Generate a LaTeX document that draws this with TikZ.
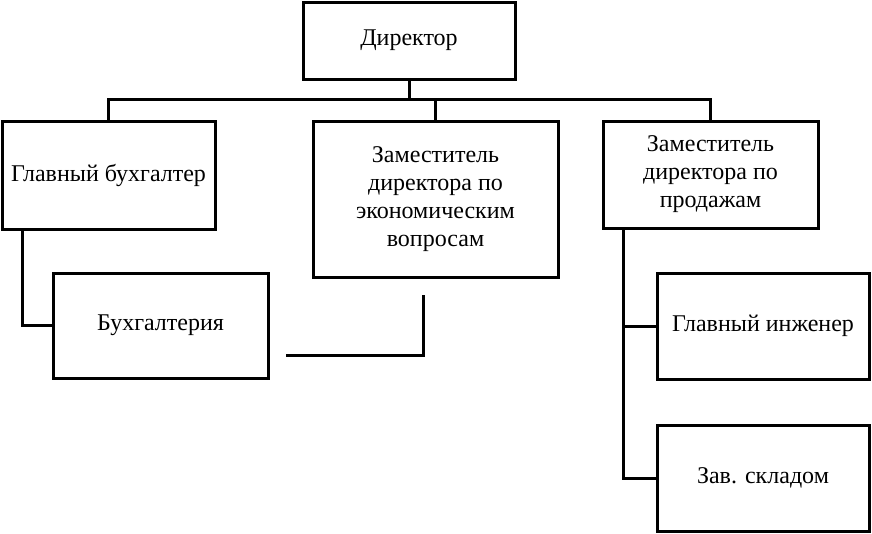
\documentclass[tikz,border=0pt]{standalone}
\usepackage{fontspec}
\setmainfont{Liberation Serif}
\usetikzlibrary{positioning}
\tikzset{
  orgbox/.style={draw,line width=3pt,align=center,inner sep=1pt,
    font=\fontsize{24}{28}\selectfont},
  link/.style={line width=3pt}
}

\begin{document}
\begin{tikzpicture}[x=1pt,y=-1pt,line join=miter]
  \useasboundingbox (0,0) rectangle (872,533);
  \node[orgbox,minimum width=212pt,minimum height=77pt] (dir) at (409,40.5) {Директор};
  \node[orgbox,minimum width=213pt,minimum height=108pt] (lead) at (108.5,175) {Главный бухгалтер};
  \node[orgbox,minimum width=245pt,minimum height=156pt] (econ) at (435.5,199)
    {Заместитель\\директора по\\экономическим\\вопросам};
  \node[orgbox,minimum width=215pt,minimum height=107pt] (sales) at (710.5,174.5)
    {Заместитель\\директора по\\продажам};
  \node[orgbox,minimum width=215pt,minimum height=105pt] (acc) at (160.5,325.5) {Бухгалтерия};
  \node[orgbox,minimum width=212pt,minimum height=106pt] (eng) at (763,326) {Главный инженер};
  \node[orgbox,minimum width=212pt,minimum height=106pt] (store) at (763,478) {Зав. складом};

  % top level bus
  \coordinate (bus) at (409,99);
  \draw[link] (dir.south) -- (bus);
  \draw[link] (lead.north) |- (bus) -| (sales.north);
  \draw[link] (econ.north) -- (econ.north |- bus);

  % subordinates
  \draw[link] ([xshift=22pt]lead.south west) |- (acc.west);
  \draw[link] ([xshift=22pt]sales.south west) |- (store.west);
  \draw[link] ([xshift=22pt]sales.south west |- eng.west) -- (eng.west);

  % loose line under the middle box
  \coordinate (stubtop) at (423,295);
  \coordinate (stubend) at (286,355);
  \draw[link] (stubtop) |- (stubend);
\end{tikzpicture}
\end{document}
